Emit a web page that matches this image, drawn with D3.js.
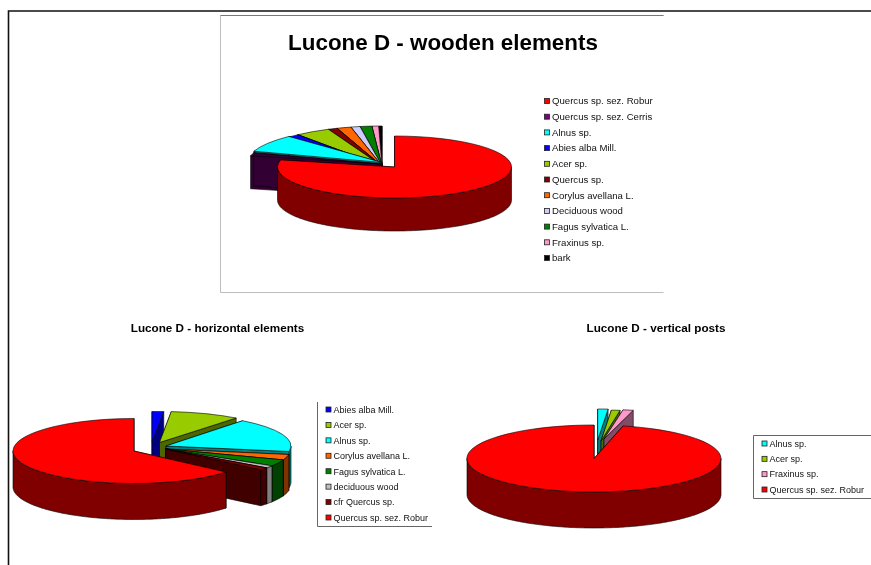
<!DOCTYPE html>
<html>
  <head>
    <script src="https://d3js.org/d3.v7.min.js"></script>
    <style>
      html, body { margin: 0; padding: 0; background: #fff; }
      svg { display: block; font-family: "Liberation Sans", Arial, sans-serif; filter: blur(0.35px); }
    </style>
  </head>
  <body>
    <svg id="plot" width="871" height="565"></svg>
    <script>
      // wooden elements (percent)
      const woodCategories = ["Quercus sp. sez. Robur", "Quercus sp. sez. Cerris", "Alnus sp.", "Abies alba Mill.", "Acer sp.", "Quercus sp.", "Corylus avellana L.", "Deciduous wood", "Fagus sylvatica L.", "Fraxinus sp.", "bark"];
      const woodValues = [78.6, 1.4, 7.8, 1.4, 4.2, 1.1, 1.7, 1.1, 1.4, 0.8, 0.4];
      const woodColors = ["#ff0000", "#800080", "#00ffff", "#0000ff", "#99cc00", "#800000", "#ff6600", "#ccccff", "#008000", "#ff99cc", "#000000"];

      // horizontal elements
      const horizCategories = ["Abies alba Mill.", "Acer sp.", "Alnus sp.", "Corylus avellana L.", "Fagus sylvatica L.", "deciduous wood", "cfr Quercus sp.", "Quercus sp. sez. Robur"];
      const horizValues = [1.5, 9.0, 17.2, 2.8, 3.3, 1.2, 1.2, 63.7];
      const horizColors = ["#0000ff", "#99cc00", "#00ffff", "#ff6600", "#008000", "#c0c0c0", "#800000", "#ff0000"];

      // vertical posts
      const vertCategories = ["Alnus sp.", "Acer sp.", "Fraxinus sp.", "Quercus sp. sez. Robur"];
      const vertValues = [1.3, 1.1, 1.3, 96.3];
      const vertColors = ["#00ffff", "#99cc00", "#ff99cc", "#ff0000"];

      const svg = d3.select("#plot");

      // page frame and the box of the first chart
      svg.append("path").attr("d", "M871,11H8.5V565").attr("fill", "none").attr("stroke", "#111").attr("stroke-width", 1.6);
      svg.append("path").attr("d", "M663.5,15.5H220.5V292.5H663.5").attr("fill", "none").attr("stroke", "#bdbdbd");
      svg.append("path").attr("d", "M220.5,15.5H663.5").attr("fill", "none").attr("stroke", "#777");

      // shade used for the sides of a slice
      function shade(c) {
        const r = d3.rgb(c);
        return d3.rgb(r.r / 2, r.g / 2, r.b / 2).formatHex();
      }

      function drawPie(values, colors, opts) {
        const g = svg.append("g");
        const slices = d3.pie().sort(null)(values);
        const biggest = d3.max(values);
        const arc = d3.arc().innerRadius(0).outerRadius(1);

        // back slices first, the biggest one always on top
        const order = slices.slice().sort(function(a, b) {
          if (a.value === biggest) return 1;
          if (b.value === biggest) return -1;
          return -Math.cos((a.startAngle + a.endAngle) / 2) + Math.cos((b.startAngle + b.endAngle) / 2);
        });

        order.forEach(function(d) {
          const [cx, cy, rx, ry] = opts.geom(d.index);
          const c = colors[d.index];
          const side = (opts.side && opts.side[d.index]) || shade(c);
          const top = (opts.top && opts.top[d.index]) || c;
          const s = g.append("g").attr("transform", "translate(" + cx + "," + cy + ")");
          const px = a => rx * Math.sin(a);
          const py = a => -ry * Math.cos(a);
          const h = opts.depth;

          // cut faces
          [d.startAngle, d.endAngle].forEach(function(a) {
            s.append("path")
              .attr("d", d3.line()([[0, 0], [px(a), py(a)], [px(a), py(a) + h], [0, h]]) + "Z")
              .attr("fill", side).attr("stroke", "#000").attr("stroke-width", 0.6);
          });

          // outer wall, only the front half shows
          const a0 = Math.max(d.startAngle, Math.PI / 2);
          const a1 = Math.min(d.endAngle, Math.PI * 1.5);
          if (a1 > a0) {
            const steps = d3.range(a0, a1, Math.PI / 180).concat([a1]);
            s.append("path")
              .attr("d", d3.area().x(px).y0(py).y1(a => py(a) + h)(steps))
              .attr("fill", side).attr("stroke", "#000").attr("stroke-width", 0.6);
          }

          // top
          s.append("path")
            .attr("d", arc(d))
            .attr("transform", "scale(" + rx + "," + ry + ")")
            .attr("fill", top).attr("stroke", "#000").attr("stroke-width", 0.6)
            .attr("vector-effect", "non-scaling-stroke");
        });
      }

      function drawLegend(cats, colors, x, rows, size) {
        const g = svg.append("g");
        cats.forEach(function(name, i) {
          g.append("rect").attr("x", x + 0.5).attr("y", rows(i) - 2.5).attr("width", 5).attr("height", 5)
            .attr("fill", colors[i]).attr("stroke", "#222").attr("stroke-width", 0.8);
          g.append("text").attr("x", x + 8).attr("y", rows(i) + 3.3).attr("font-size", size).attr("fill", "#111").text(name);
        });
      }

      function title(text, x, y, size) {
        svg.append("text").attr("x", x).attr("y", y).attr("text-anchor", "middle")
          .attr("font-weight", "bold").attr("font-size", size).attr("fill", "#000").text(text);
      }

      // slice geometry per chart: centre and radii of each slice
      const woodRest = [382, 166, 135, 40];
      drawPie(woodValues, woodColors, {
        depth: 33,
        geom: i => i === 0 ? [394.5, 167, 117, 31] : i === 1 ? [382, 164, 135, 36] : i === 2 ? [382, 162.5, 135, 36] : woodRest,
        top: { 1: "#330033" },
        side: { 1: "#330033", 10: "#000000" }
      });

      const horizGeom = [[152, 441.5, 125, 30], [159.5, 442.5, 125, 31], [166, 446, 125, 32], [165.7, 449, 125, 32],
                         [165.7, 449, 125, 32], [165.7, 449, 125, 32], [165.7, 449, 125, 32], [134, 451, 121, 32.5]];
      drawPie(horizValues, horizColors, {
        depth: 36,
        geom: i => horizGeom[i],
        side: { 5: "#7f7f7f" }
      });

      const vertGeom = [[597.7, 440, 127, 31], [601, 441, 127, 31], [604, 439, 127, 29.5], [594, 458.5, 127, 33.5]];
      drawPie(vertValues, vertColors, {
        depth: 36,
        geom: i => vertGeom[i]
      });

      title("Lucone D - wooden elements", 443, 49.5, 22.4);
      title("Lucone D - horizontal elements", 217.5, 332, 11.7);
      title("Lucone D - vertical posts", 656, 332, 11.7);

      // legends
      const woodRows = d3.scaleLinear().domain([0, 10]).range([101, 258]);
      drawLegend(woodCategories, woodColors, 544, woodRows, 9.6);

      svg.append("path").attr("d", "M317.5,402V526.5H432").attr("fill", "none").attr("stroke", "#666");
      const horizRows = d3.scaleLinear().domain([0, 7]).range([409.5, 517.5]);
      drawLegend(horizCategories, horizColors, 325.5, horizRows, 9);

      svg.append("path").attr("d", "M871,435.5H753.5V498.5H871").attr("fill", "none").attr("stroke", "#666");
      const vertRows = d3.scaleLinear().domain([0, 3]).range([443.5, 489.5]);
      drawLegend(vertCategories, vertColors, 761.5, vertRows, 9);
    </script>
  </body>
</html>
